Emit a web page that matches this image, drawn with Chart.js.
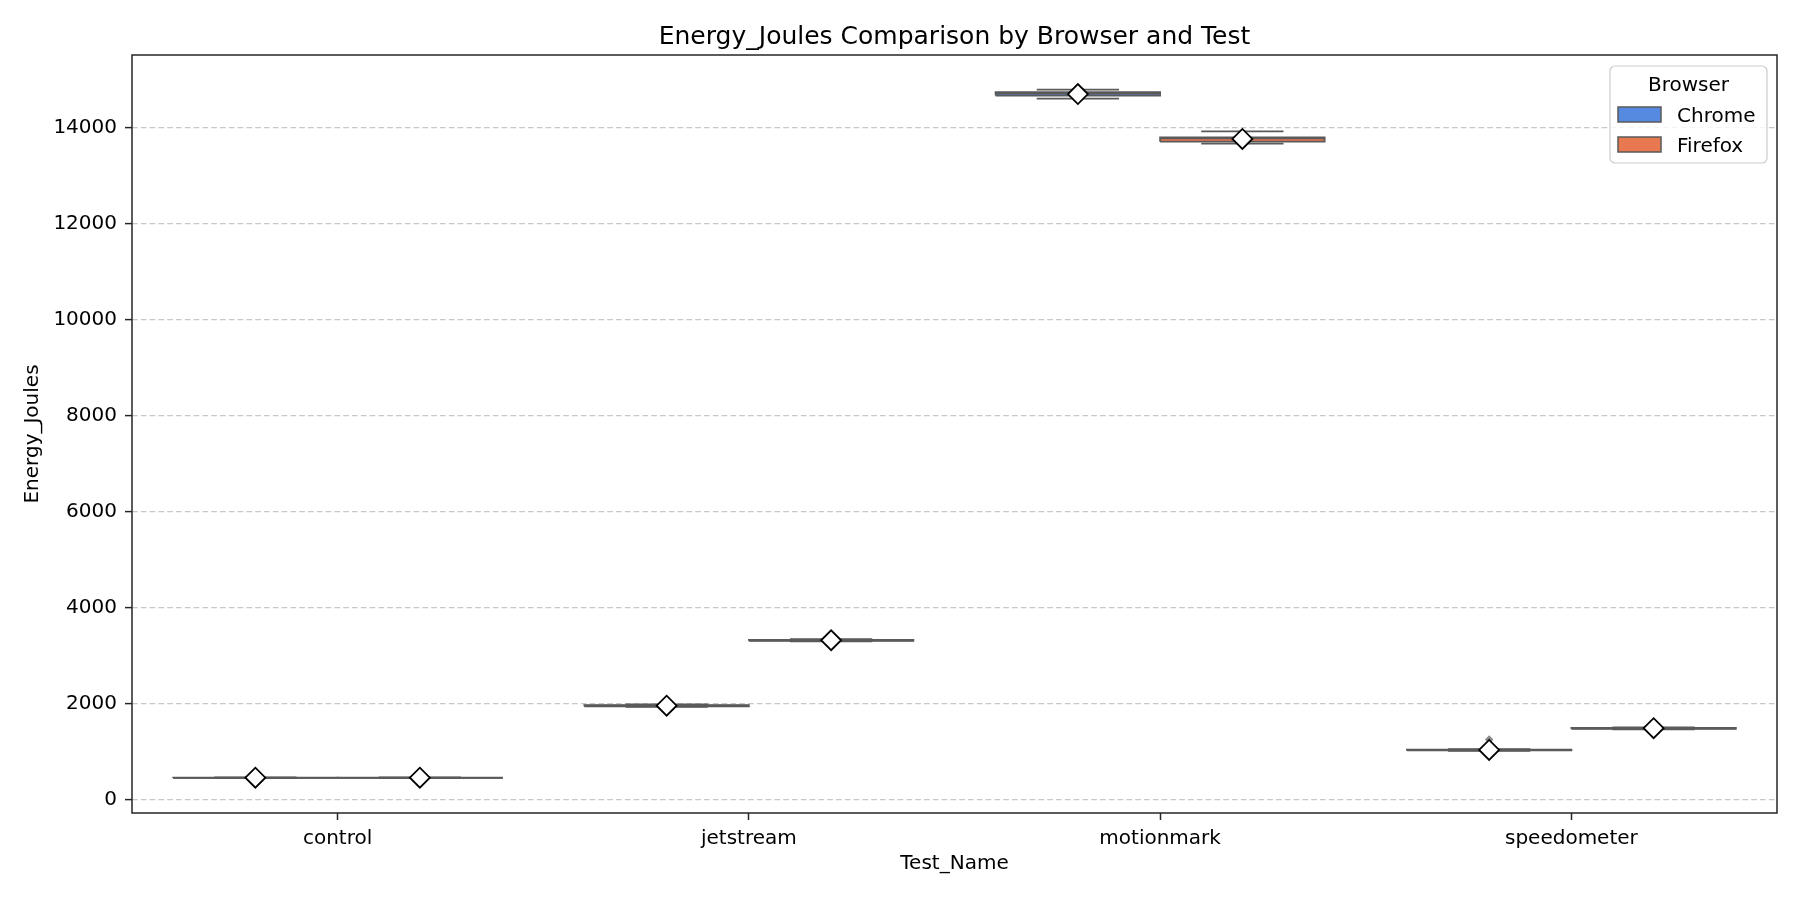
<!DOCTYPE html>
<html>
<head>
<meta charset="utf-8">
<script src="https://cdn.jsdelivr.net/npm/chart.js@4.4.0/dist/chart.umd.min.js"></script>
<style>
  html, body { margin: 0; padding: 0; background: #fff; }
</style>
</head>
<body>
<canvas id="chart" width="1800" height="900"></canvas>
<script>
// categories
const tests = ['control', 'jetstream', 'motionmark', 'speedometer'];
const browsers = ['Chrome', 'Firefox'];
const yTicks = [0, 2000, 4000, 6000, 8000, 10000, 12000, 14000];
const chartTitle = 'Energy_Joules Comparison by Browser and Test';

// Chrome box stats
const chromeLow = [454, 1938, 14597, 1022];
const chromeQ1 = [459, 1952, 14660, 1032];
const chromeMedian = [463, 1962, 14700, 1040];
const chromeQ3 = [467, 1973, 14730, 1050];
const chromeHigh = [472, 1988, 14785, 1060];
const chromeMean = [464, 1963, 14692, 1042];
const chromeOutliers = [[], [], [], [1255, 1264]];

// Firefox box stats
const firefoxLow = [454, 3302, 13660, 1472];
const firefoxQ1 = [459, 3314, 13702, 1483];
const firefoxMedian = [463, 3324, 13770, 1492];
const firefoxQ3 = [467, 3334, 13788, 1502];
const firefoxHigh = [472, 3347, 13915, 1513];
const firefoxMean = [464, 3325, 13758, 1494];
const firefoxOutliers = [[], [], [], []];

const chromeColor = '#5689e0';
const firefoxColor = '#e87850';
const lineGray = '#5a5a5a';
const axisColor = '#262626';
const fontFamily = 'DejaVu Sans';

const HALF_BOX = 0.2;
const HALF_CAP = 0.1;

function boxDatasets(name, off, color, q1, q3) {
    return tests.map((t, i) => {
        const c = i + off;
        return {
            type: 'line',
            label: name,
            data: [
                { x: c - HALF_BOX, y: q1[i] },
                { x: c + HALF_BOX, y: q1[i] },
                { x: c + HALF_BOX, y: q3[i] },
                { x: c - HALF_BOX, y: q3[i] },
                { x: c - HALF_BOX, y: q1[i] }
            ],
            fill: 'shape',
            backgroundColor: color,
            borderColor: lineGray,
            borderWidth: 1.8,
            pointRadius: 0,
            order: 3
        };
    });
}

function lineDataset(name, off, low, q1, med, q3, high) {
    const pts = [];
    tests.forEach((t, i) => {
        const c = i + off;
        // whiskers
        pts.push({ x: c, y: low[i] }, { x: c, y: q1[i] }, { x: c, y: null });
        pts.push({ x: c, y: q3[i] }, { x: c, y: high[i] }, { x: c, y: null });
        // caps
        pts.push({ x: c - HALF_CAP, y: low[i] }, { x: c + HALF_CAP, y: low[i] }, { x: c, y: null });
        pts.push({ x: c - HALF_CAP, y: high[i] }, { x: c + HALF_CAP, y: high[i] }, { x: c, y: null });
        // median
        pts.push({ x: c - HALF_BOX, y: med[i] }, { x: c + HALF_BOX, y: med[i] }, { x: c, y: null });
    });
    return {
        type: 'line',
        label: name + ' lines',
        data: pts,
        borderColor: lineGray,
        borderWidth: 1.8,
        pointRadius: 0,
        spanGaps: false,
        fill: false,
        order: 2
    };
}

function meanDataset(name, off, mean) {
    return {
        type: 'scatter',
        label: name + ' mean',
        data: mean.map((m, i) => ({ x: i + off, y: m })),
        pointStyle: 'rectRot',
        pointRadius: 10,
        backgroundColor: '#ffffff',
        borderColor: '#000000',
        borderWidth: 1.8,
        order: 0
    };
}

function outlierDataset(name, off, outliers) {
    const pts = [];
    outliers.forEach((list, i) => list.forEach(v => pts.push({ x: i + off, y: v })));
    return {
        type: 'scatter',
        label: name + ' outliers',
        data: pts,
        pointStyle: 'rectRot',
        pointRadius: 4,
        backgroundColor: '#8c8c8c',
        borderColor: '#8c8c8c',
        borderWidth: 0,
        order: 1
    };
}

const datasets = [
    ...boxDatasets('Chrome', -0.2, chromeColor, chromeQ1, chromeQ3),
    ...boxDatasets('Firefox', 0.2, firefoxColor, firefoxQ1, firefoxQ3),
    lineDataset('Chrome', -0.2, chromeLow, chromeQ1, chromeMedian, chromeQ3, chromeHigh),
    lineDataset('Firefox', 0.2, firefoxLow, firefoxQ1, firefoxMedian, firefoxQ3, firefoxHigh),
    outlierDataset('Chrome', -0.2, chromeOutliers),
    outlierDataset('Firefox', 0.2, firefoxOutliers),
    meanDataset('Chrome', -0.2, chromeMean),
    meanDataset('Firefox', 0.2, firefoxMean)
];

// title centred over the plot, frame on all four sides, legend in the upper right
const framePlugin = {
    id: 'frame',
    afterDraw(chart) {
        const { ctx, chartArea: a } = chart;
        ctx.save();
        ctx.font = '25px "' + fontFamily + '"';
        ctx.fillStyle = '#000';
        ctx.textAlign = 'center';
        ctx.textBaseline = 'alphabetic';
        ctx.fillText(chartTitle, (a.left + a.right) / 2, a.top - 11);

        ctx.strokeStyle = axisColor;
        ctx.lineWidth = 1.5;
        ctx.strokeRect(a.left, a.top, a.right - a.left, a.bottom - a.top);

        const w = 157, h = 97;
        const x0 = a.right - 10 - w, y0 = a.top + 11;
        ctx.beginPath();
        ctx.roundRect(x0, y0, w, h, 5);
        ctx.fillStyle = 'rgba(255,255,255,0.8)';
        ctx.fill();
        ctx.strokeStyle = '#cccccc';
        ctx.lineWidth = 1.2;
        ctx.stroke();

        ctx.font = '20px "' + fontFamily + '"';
        ctx.fillStyle = '#000';
        ctx.textAlign = 'center';
        ctx.fillText('Browser', x0 + w / 2, y0 + 25);

        const colors = [chromeColor, firefoxColor];
        ctx.textAlign = 'left';
        browsers.forEach((b, k) => {
            const sy = y0 + 41 + k * 30;
            ctx.fillStyle = colors[k];
            ctx.fillRect(x0 + 8, sy, 43, 15);
            ctx.strokeStyle = lineGray;
            ctx.lineWidth = 1.5;
            ctx.strokeRect(x0 + 8, sy, 43, 15);
            ctx.fillStyle = '#000';
            ctx.fillText(b, x0 + 67, sy + 14.5);
        });
        ctx.restore();
    }
};

const chart = new Chart(document.getElementById('chart'), {
    type: 'line',
    data: { datasets },
    options: {
        responsive: false,
        devicePixelRatio: 1,
        animation: false,
        events: [],
        layout: { padding: { left: 0, right: 23, top: 55, bottom: 0 } },
        plugins: {
            legend: { display: false },
            tooltip: { enabled: false },
            title: { display: false }
        },
        scales: {
            x: {
                type: 'linear',
                min: -0.5,
                max: 3.5,
                afterBuildTicks: axis => { axis.ticks = tests.map((t, i) => ({ value: i })); },
                afterFit: scale => { scale.height = 87; },
                ticks: {
                    callback: v => tests[v],
                    color: '#000',
                    padding: 7,
                    font: { family: fontFamily, size: 20 }
                },
                grid: {
                    drawOnChartArea: false,
                    drawTicks: true,
                    tickLength: 7,
                    tickWidth: 1.5,
                    tickColor: axisColor
                },
                border: { display: false },
                title: {
                    display: true,
                    text: 'Test_Name',
                    color: '#000',
                    font: { family: fontFamily, size: 20 },
                    padding: { top: 0, bottom: 24 }
                }
            },
            y: {
                type: 'linear',
                min: -270,
                max: 15505,
                afterBuildTicks: axis => { axis.ticks = yTicks.map(v => ({ value: v })); },
                afterFit: scale => { scale.width = 132; },
                ticks: {
                    color: '#000',
                    padding: 8,
                    font: { family: fontFamily, size: 20 },
                    callback: v => String(v)
                },
                grid: {
                    color: '#c8c8c8',
                    lineWidth: 1.2,
                    drawTicks: true,
                    tickLength: 7,
                    tickWidth: 1.5,
                    tickColor: axisColor
                },
                border: { display: false, dash: [5.7, 3.1] },
                title: {
                    display: true,
                    text: 'Energy_Joules',
                    color: '#000',
                    font: { family: fontFamily, size: 20 },
                    padding: { top: 21, bottom: 0 }
                }
            }
        }
    },
    plugins: [framePlugin]
});
</script>
</body>
</html>
